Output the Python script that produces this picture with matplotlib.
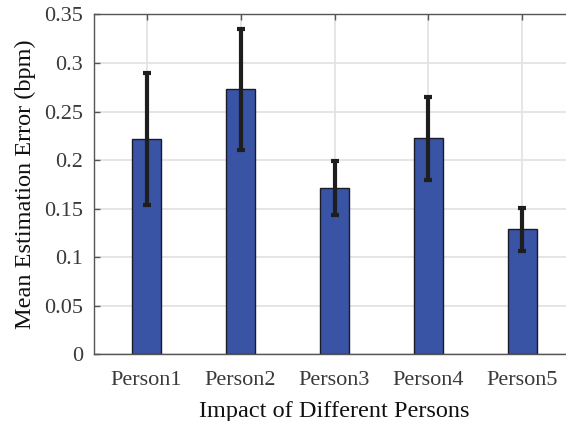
import matplotlib
matplotlib.use("Agg")
import matplotlib.pyplot as plt
from matplotlib.ticker import FormatStrFormatter

# dados
persons = ["Person1", "Person2", "Person3", "Person4", "Person5"]
mean_err = [0.222, 0.273, 0.171, 0.223, 0.129]
err_low = [0.154, 0.210, 0.143, 0.180, 0.106]
err_high = [0.290, 0.335, 0.199, 0.265, 0.151]

plt.rcParams['font.family'] = ['Liberation Serif', 'DejaVu Serif']

fig = plt.figure(figsize=(5.66, 4.21), dpi=100)
ax = fig.add_axes([0.166, 0.158, 0.85, 0.808])

x = list(range(1, len(persons) + 1))
lower = [m - lo for m, lo in zip(mean_err, err_low)]
upper = [hi - m for m, hi in zip(mean_err, err_high)]

ax.bar(x, mean_err, width=0.3, color="#3953a5", edgecolor="#1c1c28",
       linewidth=1.0, zorder=2)
ax.errorbar(x, mean_err, yerr=[lower, upper], fmt="none", ecolor="#1e1e1e",
            elinewidth=3, capsize=3.2, capthick=3, zorder=3)

ax.set_xlim(0.44, 5.56)
ax.set_ylim(0, 0.35)
ax.set_xticks(x)
ax.set_xticklabels(persons)
ax.set_yticks([0, 0.05, 0.1, 0.15, 0.2, 0.25, 0.3, 0.35])
ax.yaxis.set_major_formatter(FormatStrFormatter('%g'))

ax.grid(True, color="#e3e3e3", linewidth=1.3, zorder=0)
ax.set_axisbelow(True)
for s in ax.spines.values():
    s.set_color("#555555")
    s.set_linewidth(1.0)
ax.tick_params(direction="in", length=4, width=1, color="#555555",
               labelsize=16, labelcolor="#3a3a3a", top=True, right=True)
ax.tick_params(axis="x", pad=12)
ax.tick_params(axis="y", pad=8)

ax.set_xlabel("Impact of Different Persons", fontsize=17.5, color="#111111",
              labelpad=8)
ax.set_ylabel("Mean Estimation Error (bpm)", fontsize=17.5, color="#111111",
              labelpad=6)

fig.savefig("out.png", dpi=100)
